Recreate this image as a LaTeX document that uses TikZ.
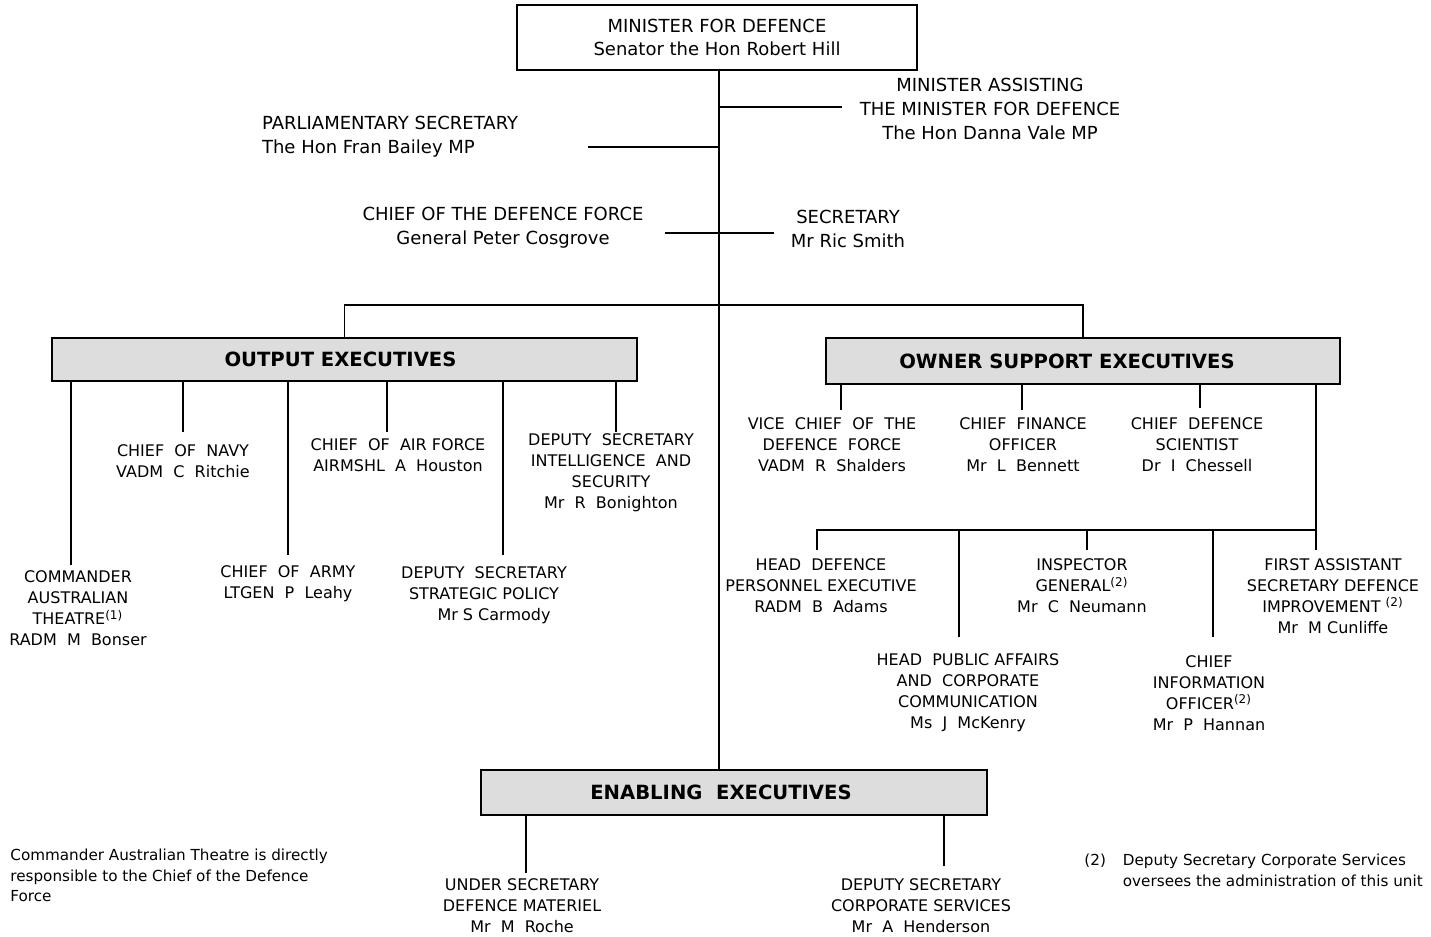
\documentclass[tikz,border=0pt]{standalone}
\usepackage{fontspec}
\setmainfont{DejaVu Sans}
\definecolor{boxgray}{HTML}{DDDDDD}
\tikzset{>=stealth,
  head/.style={align=center, font=\fontsize{9}{12}\selectfont},
  post/.style={align=center, font=\fontsize{8}{10.5}\selectfont, inner sep=1pt},
  group/.style={draw, line width=1pt, fill=boxgray, font=\fontsize{9.8}{11}\selectfont\bfseries},
  note/.style={align=left, inner sep=0pt, font=\fontsize{7.6}{10.25}\selectfont},
  link/.style={line width=0.9pt}
}
\newcommand{\refmark}[1]{\textsuperscript{(#1)}}

\begin{document}
\begin{tikzpicture}[x=0.5pt, y=-0.5pt]
    \useasboundingbox (0,0) rectangle (1431,937);
    % minister and the offices beside him
    \node[draw, line width=1pt, minimum width=200pt, minimum height=32.5pt, head, font=\fontsize{9}{11.5}\selectfont] (minister) at (717,37.5) {MINISTER FOR DEFENCE\\Senator the Hon Robert Hill};
    \node[head] (assist) at (990,109) {MINISTER ASSISTING\\THE MINISTER FOR DEFENCE\\The Hon Danna Vale MP};
    \node[head, anchor=west, align=left] (parl) at (255,137) {PARLIAMENTARY SECRETARY\\The Hon Fran Bailey MP};
    \node[head] (cdf) at (503,228) {CHIEF OF THE DEFENCE FORCE\\General Peter Cosgrove};
    \node[head] (sec) at (848,229) {SECRETARY\\Mr Ric Smith};
    \coordinate (spine) at (719,70);
    \coordinate (assistEnd) at (842,107);
    \coordinate (parlEnd) at (588,147);
    \coordinate (cdfEnd) at (665,233);
    \coordinate (secEnd) at (774,233);
    \coordinate (bus) at (719,305);

    % the three groups
    \node[group, minimum width=292.5pt, minimum height=21.5pt] (output) at (344.5,359.5) {OUTPUT EXECUTIVES\hspace*{4pt}};
    \node[group, minimum width=257pt, minimum height=23pt] (owner) at (1083,361) {OWNER SUPPORT EXECUTIVES\hspace*{16pt}};
    \node[group, minimum width=253pt, minimum height=22.5pt] (enabling) at (734,792.5) {ENABLING~ EXECUTIVES\hspace*{13pt}};

    % output executives
    \node[post] (cmd) at (78,608.5) {COMMANDER\\AUSTRALIAN\\THEATRE\refmark{1}\\RADM~ M~ Bonser};
    \node[post] (navy) at (183,461) {CHIEF~ OF~ NAVY\\VADM~ C~ Ritchie};
    \node[post] (army) at (288,583.5) {CHIEF~ OF~ ARMY\\LTGEN~ P~ Leahy};
    \node[post] (air) at (398,455) {CHIEF~ OF~ AIR FORCE\\AIRMSHL~ A~ Houston};
    \node[post] (strat) at (484,595) {DEPUTY~ SECRETARY\\STRATEGIC POLICY\\\hspace*{10pt}Mr S Carmody};
    \node[post] (intel) at (611,473) {DEPUTY~ SECRETARY\\INTELLIGENCE~ AND\\SECURITY\\Mr~ R~ Bonighton};
    \coordinate (cmdT) at (71,565);
    \coordinate (navyT) at (183,432);
    \coordinate (armyT) at (288,555);
    \coordinate (airT) at (387,432);
    \coordinate (stratT) at (503,555);
    \coordinate (intelT) at (616,432);

    % owner support executives
    \node[post] (vcdf) at (832,444.5) {VICE~ CHIEF~ OF~ THE\\DEFENCE~ FORCE\\VADM~ R~ Shalders};
    \node[post] (cfo) at (1023,444.5) {CHIEF~ FINANCE\\OFFICER\\Mr~ L~ Bennett};
    \node[post] (cds) at (1197,444.5) {CHIEF~ DEFENCE\\SCIENTIST\\Dr~ I~ Chessell};
    \node[post] (hdp) at (821,586) {HEAD~ DEFENCE\\PERSONNEL EXECUTIVE\\RADM~ B~ Adams};
    \node[post] (ig) at (1082,586) {INSPECTOR\\GENERAL\refmark{2}\\Mr~ C~ Neumann};
    \node[post] (fas) at (1333,596) {FIRST ASSISTANT\\SECRETARY DEFENCE\\IMPROVEMENT \refmark{2}\\Mr~ M Cunliffe};
    \node[post] (pa) at (968,693) {HEAD~ PUBLIC AFFAIRS\\AND~ CORPORATE\\COMMUNICATION\\Ms~ J~ McKenry};
    \node[post] (cio) at (1209,693) {CHIEF\\INFORMATION\\OFFICER\refmark{2}\\Mr~ P~ Hannan};
    \coordinate (vcdfT) at (841,410);
    \coordinate (cfoT) at (1022,410);
    \coordinate (cdsT) at (1200,408);
    \coordinate (busB) at (1316,530);
    \coordinate (hdpT) at (817,550);
    \coordinate (paT) at (959,637);
    \coordinate (igT) at (1087,550);
    \coordinate (cioT) at (1213,637);
    \coordinate (fasT) at (1316,550);

    % enabling executives
    \node[post] (usdm) at (522,906) {UNDER SECRETARY\\DEFENCE MATERIEL\\Mr~ M~ Roche};
    \node[post] (dscs) at (921,906) {DEPUTY SECRETARY\\CORPORATE SERVICES\\Mr~ A~ Henderson};
    \coordinate (usdmT) at (526,873);
    \coordinate (dscsT) at (944,866);

    % notes
    \node[note, anchor=north west] (noteA) at (10,849) {Commander Australian Theatre is directly\\responsible to the Chief of the Defence\\Force};
    \node[note, anchor=north west] (noteB) at (1084,851) {\begin{tabular}{@{}l@{\hspace{8.5pt}}l@{}}(2) & Deputy Secretary Corporate Services\\ & oversees the administration of this unit\end{tabular}};

    % lines
    \draw[link] (spine) -- (spine |- enabling.north);
    \draw[link] (spine |- assistEnd) -- (assistEnd);
    \draw[link] (parlEnd) -- (parlEnd -| spine);
    \draw[link] (cdfEnd) -- (secEnd);
    \draw[link] (output.north) |- (bus) -| (owner.north);
    \foreach \c in {cmdT,navyT,armyT,airT,stratT,intelT}
        \draw[link] (\c |- output.south) -- (\c);
    \foreach \c in {vcdfT,cfoT,cdsT}
        \draw[link] (\c |- owner.south) -- (\c);
    \draw[link] (busB |- owner.south) -- (busB) -| (hdpT);
    \foreach \c in {paT,igT,cioT,fasT}
        \draw[link] (\c |- busB) -- (\c);
    \foreach \c in {usdmT,dscsT}
        \draw[link] (\c |- enabling.south) -- (\c);
\end{tikzpicture}
\end{document}
